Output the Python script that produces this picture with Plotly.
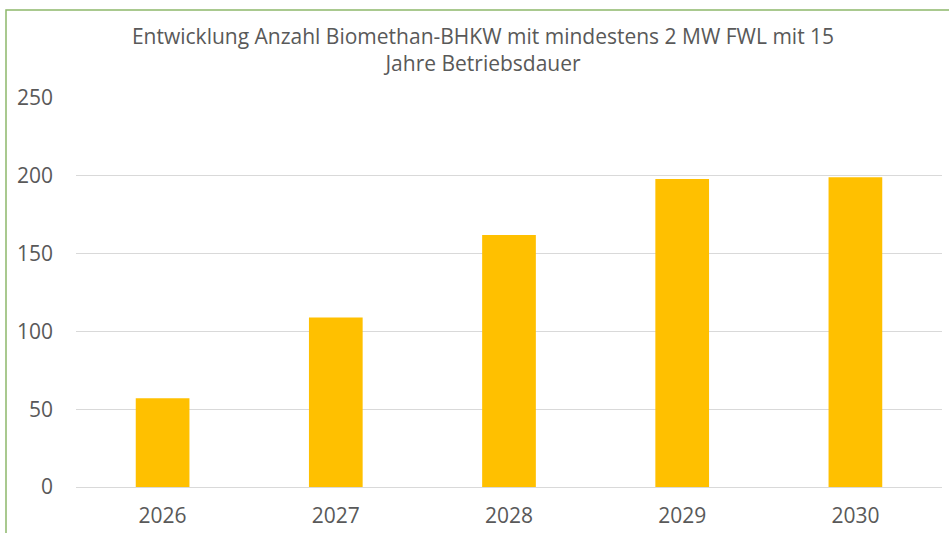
import plotly.graph_objects as go

years = ["2026", "2027", "2028", "2029", "2030"]
values = [57, 109, 162, 198, 199]
y_ticks = [0, 50, 100, 150, 200, 250]

fig = go.Figure()
fig.add_trace(go.Bar(x=years, y=values, marker=dict(color="#FFC000", line=dict(width=0)),
                     width=0.31, hoverinfo="x+y"))

fig.update_layout(
    width=949, height=533,
    margin=dict(l=76, r=7, t=98, b=46),
    paper_bgcolor="white", plot_bgcolor="white",
    showlegend=False,
    font=dict(family="Open Sans, Noto Sans, sans-serif", color="#595959"),
    title=dict(text="Entwicklung Anzahl Biomethan-BHKW mit mindestens 2 MW FWL mit 15<br>Jahre Betriebsdauer",
               x=0.509, xanchor="center", y=0.918, yanchor="top",
               font=dict(size=21, color="#595959")),
    xaxis=dict(showgrid=False, showline=False, ticks="", tickfont=dict(size=21),
               ticklabelstandoff=14, automargin=False),
    yaxis=dict(range=[0, 250], tickvals=y_ticks, showgrid=True, gridcolor="#D9D9D9",
               gridwidth=1, zeroline=True, zerolinecolor="#D9D9D9", zerolinewidth=1,
               tickfont=dict(size=21), ticklabelstandoff=22, automargin=False),
    shapes=[dict(type="rect", xref="paper", yref="paper",
                 x0=(6 - 76) / 866, x1=(960 - 76) / 866,
                 y0=-(60) / 389, y1=1 + (98 - 10) / 389,
                 line=dict(color="#8DB86B", width=1.5), fillcolor="rgba(0,0,0,0)",
                 layer="below")],
)

fig.write_html("out.html", post_script="document.body.style.margin='0';",
               config={"displayModeBar": False})
